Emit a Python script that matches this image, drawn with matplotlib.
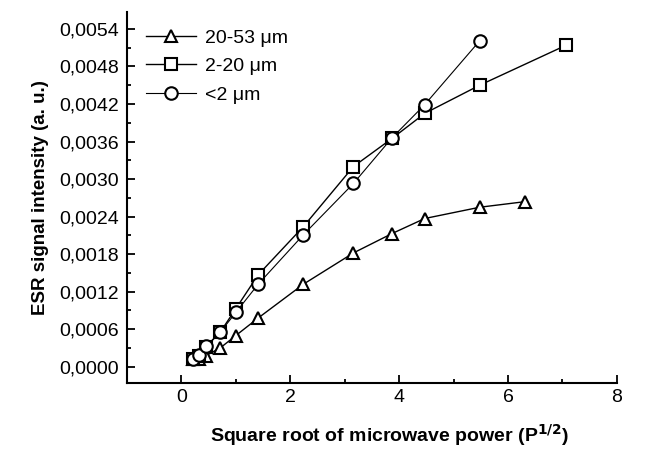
import matplotlib
matplotlib.use("Agg")
import matplotlib.pyplot as plt
from matplotlib.ticker import MultipleLocator, FuncFormatter

plt.rcParams['font.family'] = ['Liberation Sans', 'DejaVu Sans']

# sqrt of microwave power
x_tri = [0.22, 0.32, 0.45, 0.71, 1.0, 1.41, 2.24, 3.16, 3.87, 4.47, 5.48, 6.32]
y_tri = [0.00012, 0.00013, 0.00018, 0.00030, 0.00050, 0.00078, 0.00132, 0.00182,
         0.00213, 0.00237, 0.00255, 0.00264]

x_sq = [0.22, 0.32, 0.45, 0.71, 1.0, 1.41, 2.24, 3.16, 3.87, 4.47, 5.48, 7.07]
y_sq = [0.00012, 0.00018, 0.00032, 0.00055, 0.00093, 0.00147, 0.00224, 0.00320,
        0.00365, 0.00405, 0.00450, 0.00514]

x_ci = [0.22, 0.32, 0.45, 0.71, 1.0, 1.41, 2.24, 3.16, 3.87, 4.47, 5.48]
y_ci = [0.00012, 0.00019, 0.00033, 0.00055, 0.00087, 0.00132, 0.00211, 0.00293,
        0.00366, 0.00419, 0.00521]

labels = ["20-53 \u03bcm", "2-20 \u03bcm", "<2 \u03bcm"]

fig = plt.figure(figsize=(6.48, 4.61), dpi=100)
ax = fig.add_axes([0.196, 0.169, 0.756, 0.805])

mk = dict(color="black", markerfacecolor="white", markeredgecolor="black",
          markersize=9, markeredgewidth=1.5)
ax.plot(x_tri, y_tri, marker="^", linewidth=1.0, label=labels[0], **mk)
ax.plot(x_sq, y_sq, marker="s", linewidth=1.0, label=labels[1], **mk)
ax.plot(x_ci, y_ci, marker="o", linewidth=0.8, label=labels[2], **mk)

ax.set_xlim(-1, 8)
ax.set_ylim(-0.00026, 0.00567)
ax.xaxis.set_major_locator(MultipleLocator(2))
ax.xaxis.set_minor_locator(MultipleLocator(1))
ax.yaxis.set_major_locator(MultipleLocator(0.0006))
ax.yaxis.set_minor_locator(MultipleLocator(0.0003))
ax.yaxis.set_major_formatter(FuncFormatter(lambda v, p: f"{v:.4f}".replace(".", ",").replace("-", "")))

for s in ["top", "right"]:
    ax.spines[s].set_visible(False)
for s in ["left", "bottom"]:
    ax.spines[s].set_linewidth(1.5)
ax.tick_params(which="both", direction="in", width=1.3, labelsize=14)
ax.tick_params(which="major", length=6)
ax.tick_params(which="minor", length=3)
ax.tick_params(axis="x", pad=4)
ax.tick_params(axis="y", pad=6)

ax.set_xlabel("Square root of microwave power (P$^{\\mathbf{1/2}}$)", fontsize=14,
              fontweight="bold")
ax.xaxis.set_label_coords(0.535, -0.105)
ax.set_ylabel("ESR signal intensity (a. u.)", fontsize=13.5, fontweight="bold", labelpad=7)

ax.legend(loc="upper left", bbox_to_anchor=(0.01, 0.99), frameon=False, fontsize=14,
          handlelength=2.6, handletextpad=0.45, labelspacing=0.55, borderaxespad=0.3)

fig.savefig("out.png", dpi=100)
